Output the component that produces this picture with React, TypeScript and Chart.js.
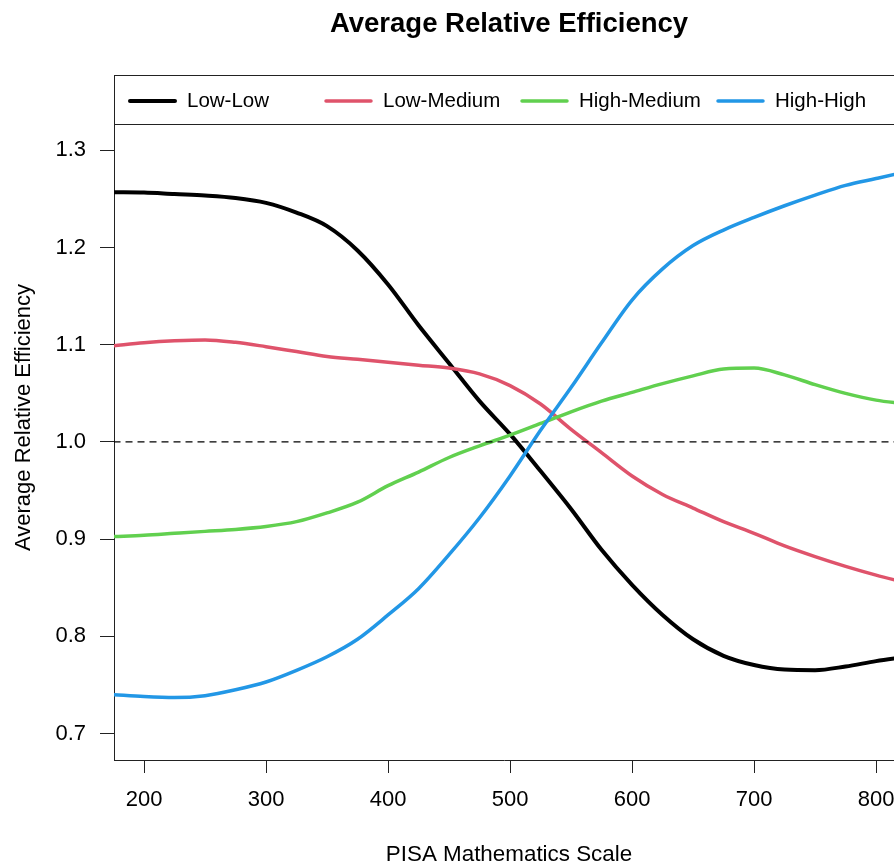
import React, { useEffect, useRef } from "react";
import { Chart, registerables } from "chart.js";

Chart.register(...registerables);

// ---- data ----
const xValues = [175, 200, 225, 250, 275, 300, 325, 350, 375, 400, 425, 450, 475, 500, 525, 550, 575, 600, 625, 650, 675, 700, 725, 750, 775, 800, 825];
const lowLow = [1.257, 1.2566, 1.255, 1.2535, 1.251, 1.246, 1.236, 1.222, 1.197, 1.162, 1.12, 1.081, 1.042, 1.008, 0.970, 0.931, 0.889, 0.853, 0.822, 0.797, 0.780, 0.7705, 0.7658, 0.7652, 0.769, 0.7745, 0.779];
const lowMedium = [1.099, 1.102, 1.104, 1.105, 1.1025, 1.098, 1.093, 1.088, 1.085, 1.082, 1.079, 1.076, 1.070, 1.058, 1.039, 1.013, 0.989, 0.965, 0.946, 0.932, 0.918, 0.906, 0.893, 0.882, 0.872, 0.863, 0.855];
const highMedium = [0.9027, 0.904, 0.906, 0.908, 0.910, 0.913, 0.918, 0.927, 0.938, 0.955, 0.969, 0.984, 0.996, 1.007, 1.019, 1.031, 1.042, 1.051, 1.060, 1.068, 1.075, 1.076, 1.069, 1.059, 1.050, 1.043, 1.039];
const highHigh = [0.740, 0.738, 0.737, 0.739, 0.745, 0.753, 0.765, 0.779, 0.797, 0.822, 0.849, 0.884, 0.922, 0.965, 1.012, 1.056, 1.102, 1.146, 1.178, 1.202, 1.218, 1.231, 1.243, 1.254, 1.264, 1.271, 1.278];
const referenceValue = 1.0;

const seriesNames = ["Low-Low", "Low-Medium", "High-Medium", "High-High"];
const seriesColors = ["#000000", "#DF536B", "#61D04F", "#2297E6"];
const xTicks = [200, 300, 400, 500, 600, 700, 800];
const yTicks = [0.7, 0.8, 0.9, 1.0, 1.1, 1.2, 1.3];

const chartTitle = "Average Relative Efficiency";
const xTitle = "PISA Mathematics Scale";
const yTitle = "Average Relative Efficiency";

const FONT = "'Liberation Sans', Arial, sans-serif";

const decorPlugin = {
  id: "decor",
  afterDraw(chart: any) {
    const { ctx, chartArea: ca } = chart;
    ctx.save();
    // frame top line and legend box bottom line
    ctx.strokeStyle = "#222";
    ctx.lineWidth = 1;
    ctx.beginPath();
    ctx.moveTo(ca.left, Math.round(ca.top) + 0.5);
    ctx.lineTo(ca.right, Math.round(ca.top) + 0.5);
    ctx.moveTo(ca.left, 124.5);
    ctx.lineTo(ca.right, 124.5);
    ctx.stroke();

    // legend
    const legendY = 101;
    ctx.font = `20.5px ${FONT}`;
    ctx.textBaseline = "middle";
    ctx.textAlign = "left";
    seriesNames.forEach((name, i) => {
      const x0 = ca.left + 16 + i * 196;
      ctx.strokeStyle = seriesColors[i];
      ctx.lineWidth = i === 0 ? 4 : 3.5;
      ctx.lineCap = "round";
      ctx.beginPath();
      ctx.moveTo(x0, legendY);
      ctx.lineTo(x0 + 45, legendY);
      ctx.stroke();
      ctx.fillStyle = "#000";
      ctx.fillText(name, x0 + 57, legendY);
    });

    // main title
    ctx.fillStyle = "#000";
    ctx.textAlign = "center";
    ctx.textBaseline = "alphabetic";
    ctx.font = `bold 27.5px ${FONT}`;
    ctx.fillText(chartTitle, 509, 32);

    // x axis title
    ctx.font = `22.4px ${FONT}`;
    ctx.fillText(xTitle, 509, 861);

    // y axis title
    ctx.font = `22px ${FONT}`;
    ctx.translate(30, 417.5);
    ctx.rotate(-Math.PI / 2);
    ctx.fillText(yTitle, 0, 0);
    ctx.restore();
  },
};

export default function App() {
  const canvasRef = useRef<HTMLCanvasElement | null>(null);

  useEffect(() => {
    if (!canvasRef.current) return;
    const series = [lowLow, lowMedium, highMedium, highHigh];
    const datasets: any[] = series.map((vals, i) => ({
      label: seriesNames[i],
      data: xValues.map((x, j) => ({ x, y: vals[j] })),
      borderColor: seriesColors[i],
      backgroundColor: seriesColors[i],
      borderWidth: i === 0 ? 4 : 3.5,
      pointRadius: 0,
      fill: false,
      cubicInterpolationMode: "monotone",
      clip: 0,
      order: 4 - i,
    }));
    datasets.push({
      label: "reference",
      data: [
        { x: xValues[0], y: referenceValue },
        { x: xValues[xValues.length - 1], y: referenceValue },
      ],
      borderColor: "#000",
      borderWidth: 1.3,
      borderDash: [7, 5],
      pointRadius: 0,
      fill: false,
      clip: 0,
      order: 0,
    });

    const chart = new Chart(canvasRef.current, {
      type: "line",
      data: { datasets },
      options: {
        animation: false,
        responsive: false,
        maintainAspectRatio: false,
        layout: { padding: { top: 75, left: 0, right: 0, bottom: 0 } },
        plugins: {
          legend: { display: false },
          title: { display: false },
          tooltip: { enabled: false },
        },
        scales: {
          x: {
            type: "linear",
            min: 175.4,
            max: 814.7,
            afterBuildTicks: (scale: any) => {
              scale.ticks = xTicks.map((v) => ({ value: v }));
            },
            afterFit: (scale: any) => {
              scale.height = 103;
              scale.paddingLeft = 0;
              scale.paddingRight = 0;
            },
            ticks: {
              autoSkip: false,
              maxRotation: 0,
              padding: 14,
              color: "#000",
              font: { family: FONT, size: 22 },
              callback: (v: any) => String(v),
            },
            grid: {
              drawOnChartArea: false,
              drawTicks: true,
              tickLength: 13,
              color: "#222",
              tickColor: "#222",
              tickWidth: 1,
            },
            border: { display: true, color: "#222", width: 1 },
          },
          y: {
            type: "linear",
            min: 0.6728,
            max: 1.3775,
            afterBuildTicks: (scale: any) => {
              scale.ticks = yTicks.map((v) => ({ value: v }));
            },
            afterFit: (scale: any) => {
              scale.width = 114;
              scale.paddingTop = 0;
              scale.paddingBottom = 0;
            },
            ticks: {
              autoSkip: false,
              padding: 14,
              color: "#000",
              font: { family: FONT, size: 22 },
              callback: (v: any) => Number(v).toFixed(1),
            },
            grid: {
              drawOnChartArea: false,
              drawTicks: true,
              tickLength: 14,
              color: "#222",
              tickColor: "#222",
              tickWidth: 1,
            },
            border: { display: true, color: "#222", width: 1 },
          },
        },
      },
      plugins: [decorPlugin],
    });
    return () => chart.destroy();
  }, []);

  return (
    <div style={{ position: "absolute", left: 0, top: 0, width: 894, height: 863, overflow: "hidden", background: "#fff" }}>
      <canvas ref={canvasRef} width={894} height={863} style={{ display: "block", width: 894, height: 863 }} />
    </div>
  );
}
